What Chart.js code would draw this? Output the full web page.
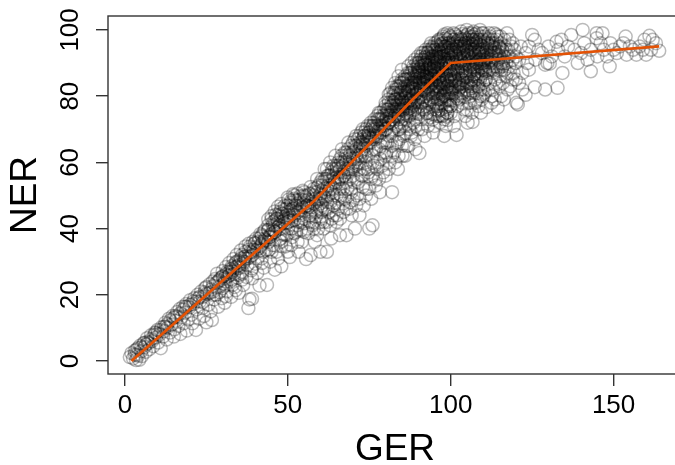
<!DOCTYPE html>
<html><head><meta charset="utf-8">
<script src="https://cdn.jsdelivr.net/npm/chart.js@4"></script>
<style>html,body{margin:0;padding:0;background:#fff;overflow:hidden}canvas{display:block}</style>
</head><body><div style="width:675px;height:465px;overflow:hidden"><div style="position:relative;width:690px;height:465px"><canvas id="c"></canvas></div></div>
<script>
// GER, NER pairs, grouped by GER range
const band0to20=[1.5,1.2,2,2.4,2.5,0.8,3,3.1,3.4,0.3,3.6,1.9,4,3.9,4.4,0.4,4.6,4.6,5,3,5.2,1.5,5.7,5.4,6,4.2,6.4,2.8,6.8,6.9,7.2,5.4,7.5,3.6,8,7.8,8.3,6,8.7,4.5,9.2,8.6,9.5,7.1,10,9.4,10.2,5.6,10.6,8,11,3.9,11.2,10.2,11.7,7.4,12,9,12.4,11.6,12.8,6.5,13,10,13.5,12.8,13.8,8.6,14.2,11,14.6,13.6,15,7.4,15.2,9.6,15.6,12.2,16,14.8,16.4,10.6,16.8,15.7,17,8.2,17.4,13.2,17.8,16.4,18,11.4,18.5,14.6,18.8,17.2,19,9.2,19.4,12.6,19.8,16.2,20,18.4,3,2,4,1.6,5,4.2,6,5.5,7,5.8,8,6.6,9,7.9,10,8.2,11,9.4,12,10.4,13,11.2,14,12.3,15,13.1,16,13.4,17,14.4,18,15.6,19,16.4,20,17,3.5,3.4,6.5,5,9.5,8.5,12.5,10.4,15.5,13.6,18.5,16.4];
const band20to40=[20.4,14,20.7,11.4,21,17.2,21.3,19,21.8,9.4,22,15.6,22.3,20,22.7,12.8,23,18,23.4,21,23.8,16,24,19.4,24.3,13.6,24.6,22,25,11.7,25.3,20.2,25.6,17,26,23.2,26.3,15,26.7,12.4,27,21,27.4,18.6,27.7,24.8,28,20,28.3,26.4,28.6,16.4,29,22.4,29.3,25,29.7,19,30,27.2,30.3,23.4,30.6,17.6,31,28.4,31.3,21,31.7,25.6,32,29.6,32.3,24,32.6,19.4,33,27,33.3,30.8,33.7,22.4,34,28.4,34.3,32,34.6,25.2,35,20.6,35.3,30,35.6,33.4,36,27,36.3,23,36.6,31.4,37,34.6,37.3,25.4,37.6,29,37.9,16,38,35.4,38.2,18.6,38.5,31.6,38.8,27.4,39,18.8,39.3,36,39.6,33.6,40,29.4,33,28,31,23,35,29,36,24.6,28,23.6,30,25.6,32,26.8,34,21.4,26,20.6,24,17.8,22,18,25,22.4,27,24,29,20.8,31,19.6,33,24.6,35,26,37,31,39,25,21,18,23,19.4,25,20.4,27,22.6,29,24.4,31,26.2,33,27.4,35,30.4,37,31.6,39,32.8,22.5,19,24.5,20.8,26.5,21.6,28.5,24,30.5,25,32.5,27.8,34.5,28.6,36.5,30,38.5,33,40,34.4];
const band40to60=[40.3,37,40.6,26.6,41,34,41.3,22.8,41.6,38.4,42,31,42.3,36,42.6,28.2,43,39.6,43.3,33.6,43.6,23,44,41,44.3,37.4,44.6,30,45,42.8,45.3,35,45.6,39.6,46,27.6,46.3,44.2,46.6,33,47,40.4,47.3,36.6,47.6,45,48,28.6,48.3,42,48.6,38.4,49,46.8,49.3,34.6,49.6,44,50,40,50.3,48.8,50.6,31.4,51,45.6,51.3,37.4,51.6,50.4,52,42.6,52.3,47,52.6,39,53,50.6,53.3,33,53.6,44.6,54,48.8,54.3,36,54.6,51.4,55,41.6,55.3,46.6,55.6,30.8,56,50,56.3,38.6,56.6,44,57,32,57.3,48.2,57.6,41,58,52,58.3,36,58.6,45,59,55,59.3,40,59.6,49,60,33,60.3,43,44,36,46,41,48,43.6,50,45,52,46,54,44,47,42,49,38,51,42.4,53,41,55,48.6,57,45.2,59,46,42,35.4,45,38.4,48,34.8,51,35,54,39.4,56,47,58,42,60,47.6,52,49,50,47,48,46,46,42.4,44,39.6,43,36.6,47,44,49,42.6,51,47.8,53,47.6,55,50,57,50.4,59,52.4,44.5,38,45.5,42,46.5,43,47.5,41,48.5,44.4,49.5,43,50.5,44,51.5,46,44,42.8,45,43.8,46,45.2,47,46.6,48,47.4,49,45.8,50,49.4,51,48.4,52,50,53,48.6,54,47,55,51,56,48.6,57,52.6,58,50,59,51,60,54,41,36,42,37.6,43,37,41.5,33.4,56.5,46.6,58.5,49,60,50.6];
const band60to80=[60.6,55,61,40,61.3,58,61.6,49,62,33,62.3,53,62.6,45,63,60,63.3,37,63.6,51,64,56,64.3,47,64.6,62,65,42,65.3,54,65.6,59,66,38,66.3,50,66.6,64,67,45,67.3,56,67.6,61,68,38,68.3,52,68.6,66,69,48,69.3,58,69.6,44,70,63,70.3,54,70.6,40,71,68,71.3,50,71.6,60,72,44,72.3,65,72.6,56,73,70,73.3,47,73.6,62,74,52,74.3,67,74.6,58,75,40,75.3,71,75.6,49,76,41,76.3,64,76.6,73,77,55,77.3,68,77.6,60,78,75,78.3,51,78.6,65,79,71,79.3,57,79.6,76,80,62,60,50,61,52,62,55,63,48,64,52,65,50,66,58,67,52,68,60,69,55,70,58,71,62,72,60,73,64,74,62,75,66,76,60,77,64,78,68,79,66,80,70,61.5,46,63.5,43,65.5,46,67.5,49,69.5,51,71.5,54,73.5,58,75.5,55,77.5,58,79.5,63,60.5,47,62.5,50,64.5,54,66.5,55,68.5,57,70.5,60,72.5,63,74.5,66,76.5,68,78.5,71,62,58,64,59,66,61,68,63,70,66,72,68,74,70,76,71,78,73,80,77,65,57,67,59,69,61,71,65,73,67,75,69,77,71,79,73,60.5,53,61.5,55,62.5,56,63.5,57,64.5,58,65.5,60,66.5,62,67.5,63,68.5,64,69.5,65,70.5,67,71.5,67,72.5,69,73.5,69,74.5,71,75.5,72,76.5,72,77.5,74,78.5,75,79.5,74,72,64,73,66,74,65,75,68,76,67,77,69,78,70,79,69,80,73,72.5,66,73.5,68,74.5,68,75.5,70,76.5,70,77.5,71,78.5,73,79.5,71,61,50,62,52,63,53,64,55,65,55.5,66,55.5,67,57,68,58,69,60,70,61,71,59,72,62];
const band80to90=[80.3,73,80.6,66,80.9,79,81.2,60,81.5,75,81.8,69,82,51,82.3,80,82.6,63,82.9,77,83.2,71,83.5,82,83.8,58,84,74,84.3,67,84.6,84,84.9,79,85.2,62,85.5,76,85.8,85,86,71,86.3,81,86.6,65,86.9,87,87.2,74,87.5,83,87.8,68,88,79,88.3,88,88.6,72,88.9,85,89.2,64,89.5,81,89.8,89,90,75,90.4,62.8,80,78,81,72,82,75,83,79,84,81,85,79,86,83,87,80,88,82,89,84,81,78,82,70,83,74,84,77,85,82,86,78,87,85,88,76,89,78,90,86,80.5,75,81.5,81,82.5,78,83.5,76,84.5,72,85.5,80,86.5,75,87.5,77,88.5,84,89.5,86,80.2,70,81.2,68,82.2,72,83.2,66,84.2,70,85.2,73,86.2,69,87.2,71,88.2,75,89.2,73,85,88,86,86,87,89,88,90,89,91,90,92,87,82,88,80,89,82,90,84,84,86,83,84,82,82.5,81,80.5,80.7,76,81.7,77,82.7,79,83.7,80,84.7,81,85.7,82,86.7,83,87.7,84,88.7,86,89.7,87,80.4,74,81.4,74,82.4,76,83.4,77,84.4,78,85.4,78,86.4,80,87.4,81,88.4,83,89.4,83,81,76,82,77,83,81,84,79,85,84,86,81,87,83,88,85,89,87,90,88,80.8,72,81.8,73,82.8,74,83.8,75,84.8,76,85.8,77,86.8,78,87.8,79,88.8,80,89.8,81,83,82,84,83,85,85,86,85,87,86,88,87,89,88,90,90,82.5,81,83.5,83,84.5,83,85.5,84,86.5,85,87.5,87,88.5,89,89.5,90,84,73,85,71,86,73,87,76,88,78,89,76,90,79,84.5,76,85.5,74,86.5,77,87.5,75,88.5,77,89.5,79];
const band90to100=[90.3,88,90.6,80,90.9,93,91.2,70,91.5,85,91.8,90,92,76,92.3,94,92.6,82,92.9,73,93.2,89,93.5,95,93.8,79,94,86,94.3,92,94.6,69,94.9,83,95.2,96,95.5,76,95.8,90,96,87,96.3,97,96.6,72,96.9,84,97.2,93,97.5,80,97.8,98,98,68,98.3,89,98.6,95,98.9,75,99,72.8,99.3,91,99.6,86,100,98,91,82,91,87,91,92,92,84,92,88,92,91,93,78,93,85,93,91,93,93,94,81,94,88,94,90,94,94,95,78,95,85,95,88,95,92,95,94,96,79,96,83,96,89,96,92,96,95,97,76,97,82,97,87,97,90,97,95,98,78,98,84,98,87,98,92,98,96,99,77,99,81,99,85,99,88,99,94,99,97,100,75,100,79,100,83,100,87,100,90,100,93,100,95,90.5,77,91.5,79,92.5,80,93.5,75,94.5,73,95.5,80,96.5,77,97.5,74,98.5,71,99.5,79,90.5,91,91.5,93,92.5,92,93.5,90,94.5,95,95.5,93,96.5,91,97.5,96,98.5,93,99.5,92,91.5,88,92.5,86,93.5,87,94.5,86,95.5,87,96.5,86,97.5,85,98.5,82,99.5,84,94,96,96,96.5,97,97.3,98,98.6,99,99,99.5,96,90.5,84,92.5,77,94.5,77,96.5,74,98.5,76,90.8,86,91.8,86,92.8,87,93.8,88,94.8,89,95.8,88,96.8,89,97.8,90,98.8,90,99.8,89,90.2,90,91.2,90,92.2,90,93.2,92,94.2,93,95.2,91,96.2,94,97.2,94,98.2,95,99.2,96,90.6,84,91.6,84,92.6,85,93.6,85,94.6,84,95.6,85,96.6,84,97.6,83,98.6,86,99.6,82,91,89,92,89.5,93,88.5,94,89,95,90,96,90.5,97,92,98,89.5,99,90,100,91.5,90.4,87,91.4,91,92.4,93,93.4,94,94.4,91,95.4,92,96.4,93,97.4,92,98.4,91,99.4,93,90.7,82,91.7,82,92.7,83,93.7,83,94.7,81,95.7,83,96.7,81,97.7,80,98.7,80,99.7,81,92,80,93,81,94,79,95,82,96,81,97,79,98,81,99,79,100,81,91,84,92,86,93,83,94,84,95,86,96,85,97,84,98,85,99,83,100,85];
const band100to110=[100.3,96,100.6,88,100.9,99,101.2,74,101.5,92,101.8,68.3,102,85,102.3,97,102.6,79,102.9,93,103.2,99.5,103.5,83,103.8,90,104,76,104.3,96,104.6,87,104.9,100,105.2,72,105.5,92,105.8,80,106,98,106.3,85,106.6,94,106.7,72.2,107,99.5,107.3,89,107.6,78,108,96,108.3,83,108.6,92,109,100,109.3,75,109.6,88,110,97,101,90,101,94,101,81,101,86,102,88,102,91,102,95,102,77,103,81,103,87,103,91,103,95,104,80,104,84,104,89,104,93,104,98,105,76,105,82,105,86,105,90,105,94,105,97,106,78,106,83,106,88,106,91,106,96,107,81,107,86,107,91,107,94,107,97,108,79,108,86,108,89,108,93,108,99,109,82,109,85,109,91,109,94,109,97,110,80,110,84,110,88,110,92,110,95,110,99,100.5,85,101.5,83,102.5,82,103.5,78,104.5,74,105.5,78,106.5,75,107.5,84,108.5,77,109.5,79,100.5,91,101.5,96,102.5,93,103.5,97,104.5,91,105.5,95,106.5,99,107.5,95,108.5,97,109.5,93,100.8,93,101.8,92,102.8,90,103.8,93,104.8,95,105.8,93,106.8,92,107.8,90,108.8,91,109.8,90,100.2,88,101.2,88,102.2,89,103.2,89,104.2,91,105.2,88,106.2,90,107.2,93,108.2,95,109.2,93,100.6,94,101.6,94,102.6,95,103.6,95,104.6,96,105.6,97,106.6,97,107.6,97,108.6,94,109.6,95,100.4,82,101.4,85,102.4,84,103.4,85,104.4,86,105.4,84,106.4,85,107.4,88,108.4,87,109.4,86,101,97,102,98,103,97.5,104,95.5,105,98.5,106,95,107,96,108,91,109,89,110,90,101,83,102,83,103,84,104,82,105,84,106,81,107,83,108,81,109,80,110,82];
const band110to120=[110.4,91,110.7,85,111,76.7,111.3,96,111.6,82,112,98,112.3,88,112.6,80,113,93,113.3,99,113.6,85,114,90,114.4,76.6,114.7,95,115,83,115.3,98,115.6,88,116,91,116.3,79,116.6,95,117,86,117.3,99,117.6,92,118,89,118.3,83,118.6,95,119,91,119.3,87,119.6,94,120,90,120.2,78,120.6,77.5,111,91,111,87,111,94,112,84,112,91,112,95,113,82,113,88,113,96,114,84,114,93,114,97,115,86,115,92,115,95,116,84,116,89,117,90,117,94,118,92,118,97,119,85,119,96,120,92,120,85,112.5,78,115.5,80,117.5,82,110.5,81,113.5,79,110.5,93,111.5,92,112.5,93,113.5,92,114.5,91,115.5,93,116.5,92,117.5,94,110.5,96,111.5,97,112.5,96,113.5,94,114.5,98,115.5,96,116.5,97,110.5,88,111.5,89,112.5,90,113.5,89,114.5,88,115.5,90,116.5,88,117.5,87];
const outliers=[125,98.5,125.8,97,132.5,96.4,137,98.5,140.5,100,144.8,99,146.6,99,144.8,97.5,153.7,98,161,98.2,159.5,97,164,93.7,161.5,94,157,92.5,148.8,89,143,87.5,129.7,90,129,89.5,130.4,89.8,134.3,87,132.8,82.5,129,82,125.8,82.7,123,80.4,122,87,121,91,123,93,124,95,126,91,127,94,128,93,130,95,131,92,133,94,134,97,135,92,136,95,138,94,139,90,140,93,141,96,142,91,143,94,145,92,146,96,147,94,148,92,149,96,150,94,151,93,152,95,153,96,154,92.5,155,95,156,94,158,95,159,94,160,92.5,162,97,163,96,121,84,122,82,124,88,121.5,95,123.5,90];
const coreMid=[30,25.5,30.7,24,31.4,27,32.1,26,32.8,28.6,33.5,26.4,34.2,30,34.9,28,35.6,31,36.3,29.4,37,33,37.7,31,38.4,34.6,39.1,32,39.8,35.6,40.5,33.6,41.2,37,41.9,35,42.6,39,43.3,36.4,44,39.6,44.7,37.6,45.4,41,46.1,39,46.8,43,47.5,40,48.2,44.6,48.9,41.6,49.6,46,50.3,43,51,47,51.7,44.4,52.4,48.6,53.1,45,53.8,49.8,54.5,46.4,55.2,49.6,55.9,47,56.6,50.6,57.3,46.4,58,51,58.7,48,59.4,53,60.1,49,60.8,54,61.5,51,62.2,56,62.9,52,63.6,58,64.3,54,65,59,65.7,55,66.4,60,67.1,56,67.8,62,68.5,58,69.2,63,69.9,59,70.6,65,71.3,61,72,66,72.7,62,73.4,68,74.1,64,74.8,69,75.5,66,76.2,71,76.9,67,77.6,73,78.3,69,79,74,79.7,70,80.4,76,81.1,72,81.8,78,82.5,73,83.2,79,83.9,76,84.6,81,60,46,62,48,64,50,66,52,68,54,70,56,72,58,74,60,76,62,78,64,80,66,82,68,84,70,46,39,48,40,50,42,52,44,54,45.6,56,46,58,47.6,36,32,40,35.6,42,38,38,33.6,34,29.6,63,56,65,58,67,60,69,62,71,64,73,65.5,75,67.5,77,70,79,72,81,74,83,76,85,78];
const coreTop=[84,74.4,85.2,75.6,86.5,74.2,87.7,76.4,88.9,75,90.1,74.6,91.3,76,92.6,74.8,93.8,73.6,95,74.5,96.2,75.6,97.4,74.2,98.7,73.8,99.9,77,85,77,86.3,76.4,87.5,78.6,88.7,77.4,89.9,78.2,91.1,78,92.3,78.8,93.5,77.6,94.7,79.6,95.9,77,97.1,78,98.3,80,99.5,77.6,100.7,78.8,102,79.4,103.2,80,86,79.4,87.2,79,88.4,80.6,89.6,80.8,90.8,79.6,92,81.6,93.2,80.6,94.4,82,95.6,81.4,96.8,82.2,98,80.4,99.2,83,100.4,81,101.6,80,102.8,82.6,104,81,105.2,80.6,106.4,82.4,87,81.6,88.2,82.4,89.4,82,90.6,83,91.8,83.4,93,84.6,94.2,83.6,95.4,83,96.6,84.4,97.8,82.6,99,84.6,100.2,84,101.4,84.6,102.6,83.6,103.8,84.8,105,83,106.2,83.8,107.4,85,108.6,83,88,84,89.2,85,90.4,85.4,91.6,85,92.8,85.8,94,85.4,95.2,86.6,96.4,85.6,97.6,86.4,98.8,85.2,100,86.6,101.2,85.4,102.4,86.8,103.6,86.2,104.8,85.6,106,87,107.2,86.6,108.4,85.2,109.6,86.8,110.8,85,89,85.8,90.2,87.4,91.4,87.2,92.6,88,93.8,87.2,95,87.6,96.2,88,97.4,87.8,98.6,88.2,99.8,87.6,101,88.4,102.2,87.4,103.4,88.4,104.6,87.8,105.8,89,107,88,108.2,87.6,109.4,88.6,110.6,87.6,111.8,88,113,87,90,88.8,91.2,89,92.4,89.6,93.6,89.4,94.8,88.8,96,89.6,97.2,89,98.4,90,99.6,90,100.8,89.6,102,90,103.2,90.6,104.4,89.6,105.6,90.4,106.8,89.6,108,90.2,109.2,90,110.4,89.4,111.6,90.2,112.8,91,114,89,115.2,88.8,92,91.6,93.2,91.4,94.4,92,95.6,91.4,96.8,91.8,98,91,99.2,92.6,100.4,91.6,101.6,92.4,102.8,91.8,104,92,105.2,92.6,106.4,91.6,107.6,92.4,108.8,92.6,110,91,111.2,92.4,112.4,92,113.6,93,114.8,92.4,116,90,93,93.2,94.2,93.6,95.4,94,96.6,93.4,97.8,94,99,93.2,100.2,93.8,101.4,93.2,102.6,94.2,103.8,94,105,93.6,106.2,93.2,107.4,94.2,108.6,93.2,109.8,94,111,93.2,112.2,94,113.4,94.6,114.6,93.4,115.8,94,94.6,94.6,95.8,95.4,97,95.6,98.2,95,99.4,94.6,100.6,95.6,101.8,95,103,96,104.2,95.2,105.4,96,106.6,95.6,107.8,96.4,109,95.6,110.2,96.4,111.4,95.2,112.6,95,113.8,96,115,94.6,97,96.8,98.4,97.4,99.6,97.6,100.8,97,102,96.6,103.2,97,104.4,97.4,105.6,97.6,106.8,98,108,97.6,109.2,98,110.4,98,111.6,97.4,112.8,97,114,98.6,99.4,98.4,101.4,98.6,103.6,98.8,105.4,99,107.4,98.6,109.6,99,111.8,99];
const lowerFlank=[40.6,31,42.4,33,44.2,33.6,46,35,47.8,37,49.6,38,51.4,40,53.2,42,55,43,56.8,42,58.6,43.6,60.4,45,62.2,46,64,47,65.8,49,67.6,50,69.4,52,71.2,55,73,56,74.8,57,76.6,59,78.4,61,80.2,63,82,65,83.8,66,85.6,68,87.4,70,89.2,71,91,73,92.8,75,94.6,76,96.4,79,98.2,79,100,77,47,31,50,33,53,36,56,40,59,38,62,42,65,44,68,46,71,47,74,50,77,53,80,56,83,60,86,62,89,67,92,68,95,71,98,73,101,71,60,42,63,41,66,43,69,46,72,49,75,52,78,55,81,58,84,62,87,65,90,70,93,71,96,74,99,75,51,40,54,42,57,44,48,36,45,33,42,29.6,39,28,36,26.4,33,23,30,22,27,20,52,38.6,55,39,58,40,61,42,64,44,67,47.6,70,48.6,73,52.6,76,56,79,59,82,62,85,65,88,69];
const lineGER=[2,33.7,57.7,88.3,100,164];
const lineNER=[0,27.5,48,79,90,95];
const xTicksStep=50, yTicksStep=20;
const xAxisTitle='GER', yAxisTitle='NER';

const allBands=[band0to20,band20to40,band40to60,band60to80,band80to90,band90to100,band100to110,band110to120,outliers,coreMid,coreTop,lowerFlank];
const points=[];
allBands.forEach(b=>{for(let i=0;i+1<b.length;i+=2)points.push({x:b[i],y:b[i+1]});});
const font='"Liberation Sans", Arial, sans-serif';
const axisColor='#333';
const boxPlugin={id:'box',afterDraw(ch){const a=ch.chartArea,c=ch.ctx;c.save();c.strokeStyle=axisColor;c.lineWidth=1.4;c.strokeRect(a.left,a.top,a.right-a.left,a.bottom-a.top);c.restore();}};
new Chart(document.getElementById('c'),{
 type:'scatter',
 data:{datasets:[
  {type:'line',data:lineGER.map((x,i)=>({x,y:lineNER[i]})),borderColor:'#E35205',borderWidth:2.7,pointRadius:0,tension:0,fill:false},
  {data:points,pointRadius:6.5,pointBorderWidth:1.5,pointBorderColor:'rgba(0,0,0,0.27)',pointBackgroundColor:'rgba(0,0,0,0)'}
 ]},
 options:{responsive:true,maintainAspectRatio:false,animation:false,
  layout:{padding:{top:16,right:0,bottom:0,left:0}},
  plugins:{legend:{display:false},tooltip:{enabled:false}},
  scales:{
   x:{type:'linear',min:-5.2,max:171,
    afterFit(s){s.height=91;s.paddingRight=0;s.paddingLeft=0;},
    border:{display:false},
    grid:{drawOnChartArea:false,drawTicks:true,tickLength:12,color:axisColor,lineWidth:1.4},
    ticks:{stepSize:xTicksStep,includeBounds:false,autoSkip:false,maxRotation:0,color:'#000',font:{family:font,size:26},padding:4},
    title:{display:true,text:xAxisTitle,color:'#000',font:{family:font,size:37},padding:{top:0,bottom:-7}}},
   y:{type:'linear',min:-3.9,max:104.2,
    afterFit(s){s.width=108;s.paddingTop=0;s.paddingBottom=0;},
    border:{display:false},
    grid:{drawOnChartArea:false,drawTicks:true,tickLength:12,color:axisColor,lineWidth:1.4},
    ticks:{stepSize:yTicksStep,includeBounds:false,autoSkip:false,minRotation:90,maxRotation:90,crossAlign:'center',color:'#000',font:{family:font,size:26},padding:3},
    title:{display:true,text:yAxisTitle,color:'#000',font:{family:font,size:37},padding:{top:4,bottom:0}}}
  }
 },
 plugins:[boxPlugin]
});
</script></body></html>
